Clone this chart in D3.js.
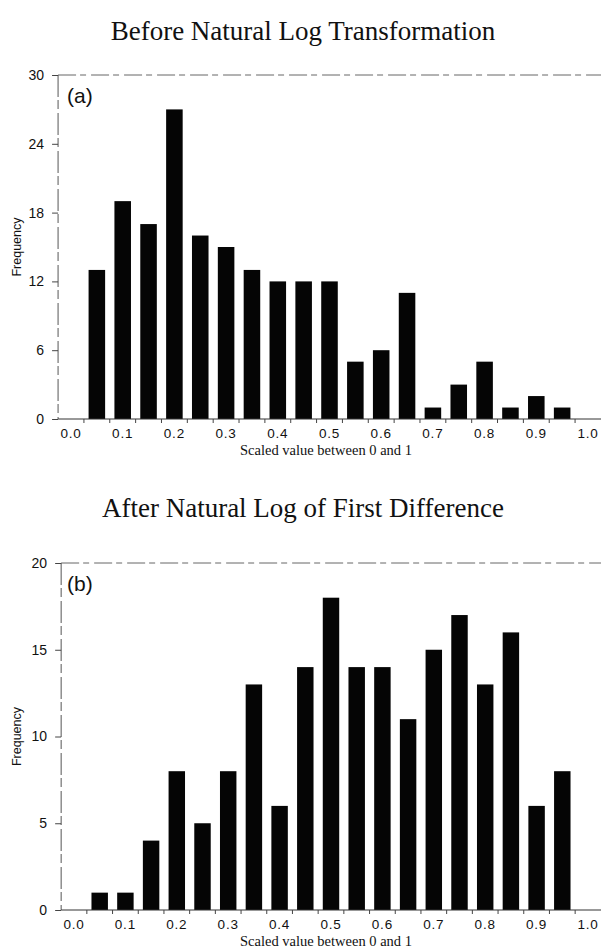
<!DOCTYPE html>
<html>
<head>
<meta charset="utf-8">
<script src="https://cdn.jsdelivr.net/npm/d3@7/dist/d3.min.js"></script>
<style>
body { margin: 0; background: #fff; }
</style>
</head>
<body>
<div id="chart"></div>
<script>
// bin centres (scaled value) and counts
var binCenters = [0.05, 0.10, 0.15, 0.20, 0.25, 0.30, 0.35, 0.40, 0.45, 0.50,
                  0.55, 0.60, 0.65, 0.70, 0.75, 0.80, 0.85, 0.90, 0.95];
var beforeCounts = [13, 19, 17, 27, 16, 15, 13, 12, 12, 12, 5, 6, 11, 1, 3, 5, 1, 2, 1];
var afterCounts  = [1, 1, 4, 8, 5, 8, 13, 6, 14, 18, 14, 14, 11, 15, 17, 13, 16, 6, 8];

var xTickValues = [0, 0.1, 0.2, 0.3, 0.4, 0.5, 0.6, 0.7, 0.8, 0.9, 1.0];
var xTickLabels = ["0.0", "0.1", "0.2", "0.3", "0.4", "0.5", "0.6", "0.7", "0.8", "0.9", "1.0"];
var beforeYTicks = [0, 6, 12, 18, 24, 30];
var afterYTicks  = [0, 5, 10, 15, 20];

var svg = d3.select("#chart").append("svg")
    .attr("width", 601)
    .attr("height", 951);

function drawPanel(counts, yTicks, title, tag, lay) {
  var g = svg.append("g");

  var x = d3.scaleLinear().domain([0, 1]).range([lay.x0, lay.x1]);
  var y = d3.scaleLinear().domain([0, d3.max(yTicks)]).range([lay.base, lay.top]);
  var axisX = x(-0.025);

  // title
  g.append("text")
      .attr("x", 303)
      .attr("y", lay.titleY)
      .attr("text-anchor", "middle")
      .style("font-family", "'Liberation Serif', 'Times New Roman', serif")
      .style("font-size", "27px")
      .attr("fill", "#111")
      .text(title);

  // frame: dashed top line and left axis
  g.append("line")
      .attr("x1", axisX).attr("x2", 601)
      .attr("y1", y(d3.max(yTicks))).attr("y2", y(d3.max(yTicks)))
      .attr("stroke", "#666")
      .attr("stroke-width", 1)
      .attr("stroke-dasharray", "18,4,6,5");

  g.append("line")
      .attr("x1", axisX).attr("x2", axisX)
      .attr("y1", lay.top).attr("y2", lay.base)
      .attr("stroke", "#555")
      .attr("stroke-width", 1)
      .attr("stroke-dasharray", "22,3,9,4");

  // y ticks
  var yAxis = d3.axisLeft(y)
      .tickValues(yTicks)
      .tickSize(6)
      .tickPadding(8)
      .tickFormat(d3.format("d"));

  var ya = g.append("g")
      .attr("transform", "translate(" + axisX + ",0)")
      .call(yAxis);
  ya.select(".domain").remove();
  ya.selectAll("line").attr("stroke", "#444");
  ya.selectAll("text")
      .style("font-family", "'Liberation Sans', Arial, sans-serif")
      .style("font-size", "14px")
      .attr("fill", "#111");

  // bars
  var bw = x(0.032) - x(0);
  g.selectAll(".bar")
      .data(counts)
    .enter().append("rect")
      .attr("class", "bar")
      .attr("x", function(d, i) { return x(binCenters[i]) - bw / 2; })
      .attr("y", function(d) { return y(d); })
      .attr("width", bw)
      .attr("height", function(d) { return y(0) - y(d); })
      .attr("fill", "#050505");

  // baseline
  g.append("line")
      .attr("x1", axisX).attr("x2", 601)
      .attr("y1", lay.base).attr("y2", lay.base)
      .attr("stroke", "#333")
      .attr("stroke-width", 1);

  // x ticks sit on bin edges, labels at tenths
  var edges = d3.range(1, 21).map(function(k) { return -0.025 + k * 0.05; });
  g.selectAll(".xtick")
      .data(edges)
    .enter().append("line")
      .attr("class", "xtick")
      .attr("x1", function(d) { return x(d); })
      .attr("x2", function(d) { return x(d); })
      .attr("y1", lay.base)
      .attr("y2", lay.base + 4)
      .attr("stroke", "#444");

  g.selectAll(".xlab")
      .data(xTickValues)
    .enter().append("text")
      .attr("class", "xlab")
      .attr("x", function(d) { return x(d); })
      .attr("y", lay.base + 19)
      .attr("text-anchor", "middle")
      .style("font-family", "'Liberation Sans', Arial, sans-serif")
      .style("font-size", "13.5px")
      .style("letter-spacing", "0.8px")
      .attr("fill", "#111")
      .text(function(d, i) { return xTickLabels[i]; });

  g.append("text")
      .attr("x", 326)
      .attr("y", lay.base + 36)
      .attr("text-anchor", "middle")
      .style("font-family", "'Liberation Serif', 'Times New Roman', serif")
      .style("font-size", "14.5px")
      .attr("fill", "#111")
      .text("Scaled value between 0 and 1");

  g.append("text")
      .attr("transform", "translate(21," + ((lay.top + lay.base) / 2) + ") rotate(-90)")
      .attr("text-anchor", "middle")
      .style("font-family", "'Liberation Sans', Arial, sans-serif")
      .style("font-size", "12.5px")
      .attr("fill", "#111")
      .text("Frequency");

  // panel tag
  g.append("text")
      .attr("x", 67)
      .attr("y", lay.top + 28)
      .style("font-family", "'Liberation Sans', Arial, sans-serif")
      .style("font-size", "21px")
      .attr("fill", "#111")
      .text(tag);
}

drawPanel(beforeCounts, beforeYTicks, "Before Natural Log Transformation", "(a)",
          {x0: 71, x1: 588, top: 75, base: 419, titleY: 40});
drawPanel(afterCounts, afterYTicks, "After Natural Log of First Difference", "(b)",
          {x0: 74, x1: 588, top: 563, base: 910, titleY: 517});
</script>
</body>
</html>
